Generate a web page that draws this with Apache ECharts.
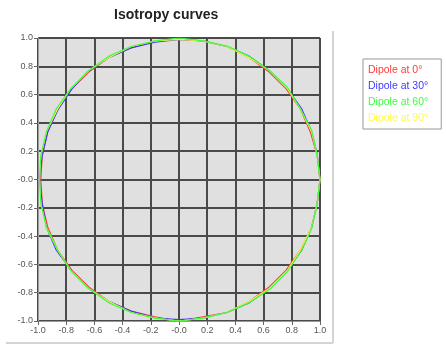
<!DOCTYPE html>
<html>
<head>
<meta charset="utf-8">
<script src="https://cdn.jsdelivr.net/npm/echarts@6/dist/echarts.min.js"></script>
<style>
  html, body { margin: 0; padding: 0; background: #fff; }
  #chart { width: 446px; height: 349px; }
</style>
</head>
<body>
<div id="chart"></div>
<script>
// Axis ticks
const tickValues = [-1.0, -0.8, -0.6, -0.4, -0.2, 0.0, 0.2, 0.4, 0.6, 0.8, 1.0];

const seriesNames = ['Dipole at 0°', 'Dipole at 30°', 'Dipole at 60°', 'Dipole at 90°'];
const seriesColors = ['#ff3b3b', '#3b3bff', '#3bff3b', '#ffff3b'];

// Isotropy curve points [x, y], traced every 10 degrees
const dipole0 = [
  [1.00, 0.00], [0.98, 0.17], [0.93, 0.34], [0.86, 0.50], [0.76, 0.64], [0.64, 0.76],
  [0.50, 0.86], [0.34, 0.94], [0.17, 0.98], [0.00, 0.99], [-0.17, 0.98], [-0.34, 0.93],
  [-0.50, 0.86], [-0.64, 0.76], [-0.76, 0.64], [-0.86, 0.50], [-0.93, 0.34], [-0.97, 0.17],
  [-0.98, 0.00], [-0.97, -0.17], [-0.93, -0.34], [-0.86, -0.50], [-0.76, -0.64], [-0.64, -0.76],
  [-0.50, -0.86], [-0.34, -0.93], [-0.17, -0.97], [0.00, -1.00], [0.17, -0.97], [0.34, -0.94],
  [0.50, -0.86], [0.64, -0.76], [0.76, -0.64], [0.86, -0.50], [0.94, -0.34], [0.98, -0.17], [1.00, 0.00]
];
const dipole30 = [
  [1.00, 0.00], [0.98, 0.18], [0.94, 0.34], [0.87, 0.50], [0.77, 0.64], [0.64, 0.77],
  [0.50, 0.87], [0.34, 0.94], [0.17, 0.98], [0.00, 0.99], [-0.17, 0.97], [-0.34, 0.93],
  [-0.50, 0.86], [-0.65, 0.76], [-0.76, 0.64], [-0.86, 0.49], [-0.93, 0.34], [-0.97, 0.17],
  [-0.99, 0.00], [-0.97, -0.17], [-0.94, -0.34], [-0.87, -0.50], [-0.76, -0.65], [-0.64, -0.77],
  [-0.50, -0.86], [-0.34, -0.93], [-0.17, -0.98], [0.00, -0.99], [0.17, -0.98], [0.34, -0.94],
  [0.50, -0.87], [0.64, -0.77], [0.77, -0.64], [0.87, -0.50], [0.94, -0.34], [0.98, -0.17], [1.00, 0.00]
];
const dipole60 = [
  [1.00, 0.00], [0.98, 0.17], [0.94, 0.35], [0.86, 0.50], [0.77, 0.65], [0.64, 0.77],
  [0.50, 0.87], [0.35, 0.94], [0.17, 0.98], [0.00, 1.00], [-0.17, 0.98], [-0.34, 0.94],
  [-0.50, 0.87], [-0.64, 0.77], [-0.77, 0.64], [-0.87, 0.50], [-0.94, 0.34], [-0.98, 0.17],
  [-0.99, 0.00], [-0.98, -0.17], [-0.94, -0.34], [-0.86, -0.50], [-0.77, -0.64], [-0.64, -0.77],
  [-0.50, -0.87], [-0.34, -0.94], [-0.17, -0.98], [0.00, -1.00], [0.17, -0.98], [0.34, -0.94],
  [0.50, -0.87], [0.65, -0.77], [0.77, -0.65], [0.87, -0.50], [0.94, -0.35], [0.98, -0.17], [1.00, 0.00]
];
const dipole90 = [
  [1.00, 0.00], [0.98, 0.17], [0.94, 0.34], [0.86, 0.50], [0.77, 0.64], [0.64, 0.77],
  [0.50, 0.86], [0.34, 0.94], [0.17, 0.98], [0.00, 0.99], [-0.17, 0.98], [-0.34, 0.94],
  [-0.50, 0.86], [-0.64, 0.77], [-0.77, 0.64], [-0.86, 0.50], [-0.94, 0.34], [-0.98, 0.17],
  [-0.99, 0.00], [-0.98, -0.17], [-0.94, -0.34], [-0.86, -0.50], [-0.77, -0.64], [-0.64, -0.77],
  [-0.50, -0.86], [-0.34, -0.94], [-0.17, -0.98], [0.00, -1.00], [0.17, -0.98], [0.34, -0.94],
  [0.50, -0.86], [0.64, -0.77], [0.77, -0.64], [0.86, -0.50], [0.94, -0.34], [0.98, -0.17], [1.00, 0.00]
];
const allSeries = [dipole0, dipole30, dipole60, dipole90];
// green is painted last so it sits on top, yellow just beneath it
const drawOrder = [0, 1, 3, 2];

const fmt = v => (Math.abs(v) < 1e-9 ? '-0.0' : v.toFixed(1));

const axisCommon = {
  type: 'value',
  min: tickValues[0],
  max: tickValues[tickValues.length - 1],
  interval: 0.2,
  axisLine: { show: true, onZero: false, lineStyle: { color: '#9a9a9a', width: 1 } },
  axisTick: { show: true, length: 4, lineStyle: { color: '#666' } },
  axisLabel: { color: '#555', fontSize: 9, fontFamily: 'Liberation Sans', formatter: fmt, margin: 5 },
  splitLine: { show: true, lineStyle: { color: '#4a4a4a', width: 2 } }
};

const chart = echarts.init(document.getElementById('chart'), null, { renderer: 'canvas' });
chart.setOption({
  animation: false,
  backgroundColor: '#fff',
  title: {
    text: 'Isotropy curves',
    left: 114, top: 8,
    padding: 0,
    textStyle: { fontSize: 14, fontWeight: 'bold', color: '#222', fontFamily: 'Liberation Sans' }
  },
  grid: {
    left: 38, top: 38, right: 126, bottom: 28,
    show: true, backgroundColor: '#e0e0e0', borderColor: '#d0d0d0', borderWidth: 1
  },
  xAxis: Object.assign({}, axisCommon),
  yAxis: Object.assign({}, axisCommon),
  legend: {
    orient: 'vertical',
    left: 363, top: 59,
    padding: [6, 13, 5, 0],
    itemGap: 5,
    itemWidth: 0, itemHeight: 0,
    icon: 'none',
    backgroundColor: '#fff',
    borderColor: '#999',
    borderWidth: 1,
    selectedMode: false,
    data: seriesNames.map((n, i) => ({
      name: n,
      textStyle: { color: seriesColors[i], fontSize: 10.5, fontFamily: 'Liberation Sans' }
    }))
  },
  graphic: [
    { type: 'line', shape: { x1: 333, y1: 31, x2: 333, y2: 343 }, style: { stroke: '#d4d4d4', lineWidth: 2 } },
    { type: 'line', shape: { x1: 6, y1: 343, x2: 333, y2: 343 }, style: { stroke: '#d4d4d4', lineWidth: 2 } }
  ],
  series: drawOrder.map(i => ({
    name: seriesNames[i],
    type: 'line',
    data: allSeries[i],
    showSymbol: false,
    symbol: 'none',
    smooth: false,
    lineStyle: { color: seriesColors[i], width: 1.2 },
    itemStyle: { color: seriesColors[i] }
  }))
});
</script>
</body>
</html>
